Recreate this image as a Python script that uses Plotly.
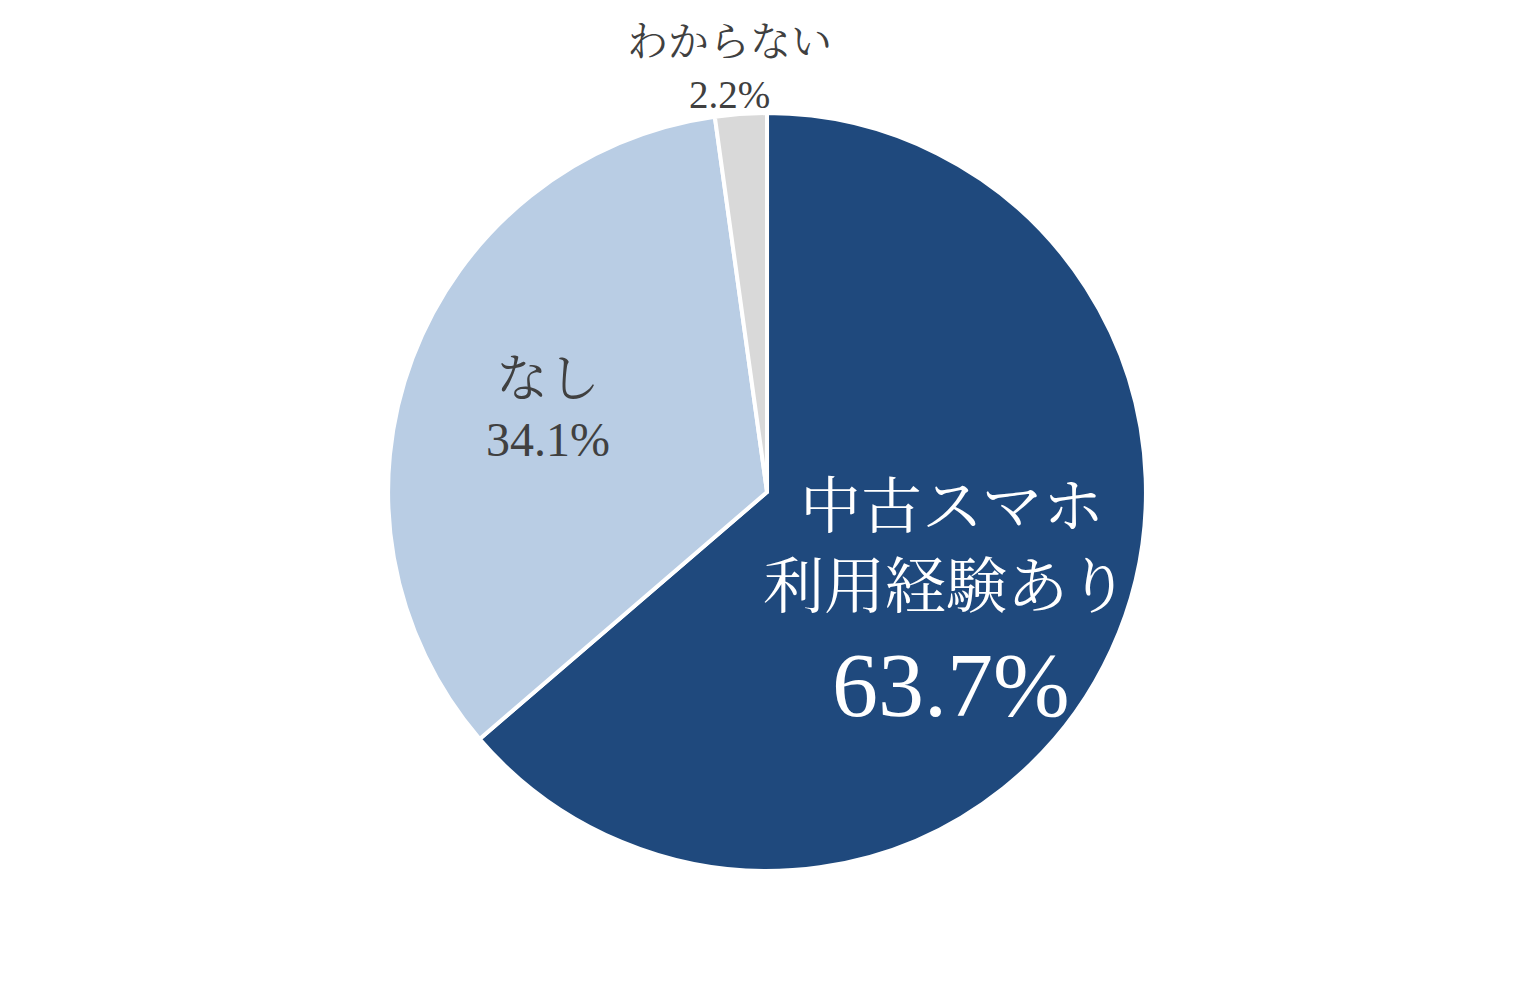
import plotly.graph_objects as go

# ── Data ───────────────────────────────────────────────
labels = ["中古スマホ<br>利用経験あり", "なし", "わからない"]
values = [63.7, 34.1, 2.2]
colors = ["#1F497D", "#B9CDE4", "#D9D9D9"]

FONT = "Liberation Serif, Noto Serif CJK JP, Noto Sans CJK JP, serif"
W, H = 1534, 985

fig = go.Figure(go.Pie(
    labels=labels,
    values=values,
    sort=False,
    direction="clockwise",
    rotation=0,
    textinfo="none",
    hoverinfo="label+percent",
    marker=dict(colors=colors, line=dict(color="white", width=4)),
    domain=dict(x=[0.2477, 0.7419], y=[0.1239, 0.8933]),
    showlegend=False,
))

# per-slice label styling: pixel centres of each text line (from top-left)
name_lines_px = [[(944, 499), (938, 579)], [(540, 371)], [(721, 34)]]
pct_px = [(943, 677), (540, 431), (721, 87)]
name_size = [61, 52, 41]
pct_size = [92, 48, 39]
text_color = ["white", "#404040", "#404040"]


def ann(text, px, size, color):
    return dict(
        x=px[0] / W, y=1 - px[1] / H, xref="paper", yref="paper",
        xanchor="center", yanchor="middle", showarrow=False,
        text=text, font=dict(family=FONT, color=color, size=size),
    )


annotations = []
for lab, val, lines, pp, ns, ps, c in zip(labels, values, name_lines_px, pct_px,
                                          name_size, pct_size, text_color):
    for part, lp in zip(lab.split("<br>"), lines):
        annotations.append(ann(part, lp, ns, c))
    annotations.append(ann(f"{val:.1f}%", pp, ps, c))

fig.update_layout(
    width=W,
    height=H,
    paper_bgcolor="white",
    plot_bgcolor="white",
    margin=dict(l=0, r=0, t=0, b=0),
    annotations=annotations,
)

fig.write_html("out.html")
